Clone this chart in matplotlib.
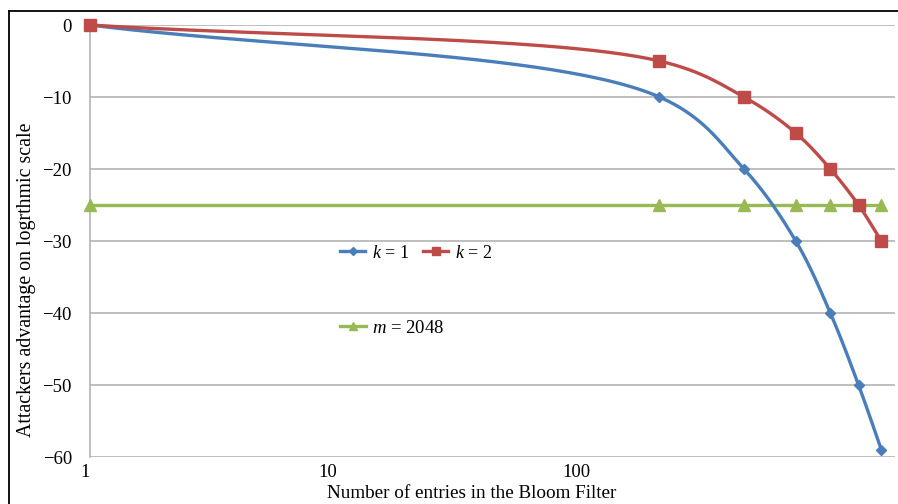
import numpy as np
import matplotlib
matplotlib.use("Agg")
import matplotlib.pyplot as plt
from matplotlib.lines import Line2D

# ---- data ----
entries = [1, 220, 490, 800, 1110, 1450, 1800]
adv_k1 = [0, -10, -20, -30, -40, -50, -59]
adv_k2 = [0, -5, -10, -15, -20, -25, -30]
adv_m = [-25, -25, -25, -25, -25, -25, -25]
x_ticks = [1, 10, 100]
x_tick_labels = ["1", "10", "100"]
y_ticks = [0, -10, -20, -30, -40, -50, -60]

plt.rcParams['font.family'] = ['Liberation Serif', 'DejaVu Serif']
plt.rcParams['mathtext.fontset'] = 'custom'
plt.rcParams['mathtext.it'] = 'Liberation Serif:italic'
plt.rcParams['mathtext.rm'] = 'Liberation Serif'

BLUE = "#4A7EBB"
RED = "#BE4B48"
GREEN = "#98B954"
GRID = "#B3B3B3"

fig = plt.figure(figsize=(8.98, 5.04), dpi=100)
ax = fig.add_axes([90 / 898, 1 - 457 / 504, (895 - 90) / 898, (457 - 25) / 504])
ax.set_xscale('log')
ax.set_xlim(1, 2048)
ax.set_ylim(-60, 0)


def smooth(xs, ys, n=60):
    """Centripetal Catmull-Rom curve through the points, computed in display space."""
    disp = ax.transData.transform(np.column_stack([xs, ys]))
    P = np.vstack([2 * disp[0] - disp[1], disp, 2 * disp[-1] - disp[-2]])
    out = []
    for i in range(1, len(P) - 2):
        p0, p1, p2, p3 = P[i - 1], P[i], P[i + 1], P[i + 2]
        t0 = 0.0
        t1 = t0 + np.linalg.norm(p1 - p0) ** 0.5
        t2 = t1 + np.linalg.norm(p2 - p1) ** 0.5
        t3 = t2 + np.linalg.norm(p3 - p2) ** 0.5
        t = np.linspace(t1, t2, n)[:, None]
        A1 = (t1 - t) / (t1 - t0) * p0 + (t - t0) / (t1 - t0) * p1
        A2 = (t2 - t) / (t2 - t1) * p1 + (t - t1) / (t2 - t1) * p2
        A3 = (t3 - t) / (t3 - t2) * p2 + (t - t2) / (t3 - t2) * p3
        B1 = (t2 - t) / (t2 - t0) * A1 + (t - t0) / (t2 - t0) * A2
        B2 = (t3 - t) / (t3 - t1) * A2 + (t - t1) / (t3 - t1) * A3
        C = (t2 - t) / (t2 - t1) * B1 + (t - t1) / (t2 - t1) * B2
        out.append(C if i == 1 else C[1:])
    out = np.vstack(out)
    data = ax.transData.inverted().transform(out)
    return data[:, 0], data[:, 1]


for yt in y_ticks:
    ax.axhline(yt, color=GRID, lw=1.2, zorder=0)

series = [
    (adv_m, GREEN, '^', 8, "$m$ = 2048"),
    (adv_k1, BLUE, 'D', 5.5, "$k$ = 1"),
    (adv_k2, RED, 's', 8, "$k$ = 2"),
]
handles = {}
for ys, col, mk, ms, lab in series:
    sx, sy = smooth(entries, ys)
    ax.plot(sx, sy, color=col, lw=2.4, solid_capstyle='round', zorder=3, clip_on=False)
    ax.plot(entries, ys, linestyle='none', marker=mk, ms=ms, color=col, zorder=4, clip_on=False)
    handles[lab] = Line2D([], [], color=col, lw=2.4, marker=mk, ms=ms * 0.75)

ax.set_xticks(x_ticks)
ax.set_xticklabels(x_tick_labels)
ax.xaxis.set_minor_locator(matplotlib.ticker.NullLocator())
ax.set_yticks(y_ticks)
ax.set_yticklabels([("\u2212%d" % -v) if v < 0 else "0" for v in y_ticks])
ax.tick_params(axis='both', length=0, labelsize=13.5, colors='black')
ax.tick_params(axis='y', pad=13)
ax.tick_params(axis='x', pad=5)

# small leftward shift of the first two x labels as in the reference
shift = matplotlib.transforms.ScaledTranslation(-5 / 100, 0, fig.dpi_scale_trans)
for lbl in ax.get_xticklabels()[:2]:
    lbl.set_transform(lbl.get_transform() + shift)

for s in ['top', 'right', 'bottom']:
    ax.spines[s].set_visible(False)
ax.spines['left'].set_color(GRID)
ax.spines['left'].set_linewidth(1.2)

fig.text(472 / 898, 1 - 493 / 504, "Number of entries in the Bloom Filter",
         ha='center', va='center', fontsize=13.8)
fig.text(27 / 898, 1 - 280 / 504, "Attackers advantage on logrthmic scale", rotation=90,
         ha='center', va='center', fontsize=14.3)

# legends
leg1 = ax.legend([handles["$k$ = 1"], handles["$k$ = 2"]], ["$k$ = 1", "$k$ = 2"],
                 loc='center left', bbox_to_anchor=(340 / 898, 1 - 253 / 504),
                 bbox_transform=fig.transFigure, ncol=2, frameon=False, fontsize=13,
                 borderpad=0, borderaxespad=0, handlelength=1.4, handletextpad=0.35,
                 columnspacing=0.8)
ax.add_artist(leg1)
ax.legend([handles["$m$ = 2048"]], ["$m$ = 2048"],
          loc='center left', bbox_to_anchor=(340 / 898, 1 - 328 / 504),
          bbox_transform=fig.transFigure, frameon=False, fontsize=13.5,
          borderpad=0, borderaxespad=0, handlelength=1.4, handletextpad=0.3)

# outer frame lines (top and left)
fig.add_artist(Line2D([9 / 898, 9 / 898], [0, 1 - 11 / 504], color='black', lw=1.3,
                      transform=fig.transFigure))
fig.add_artist(Line2D([9 / 898, 1], [1 - 11 / 504, 1 - 11 / 504], color='black', lw=1.3,
                      transform=fig.transFigure))

fig.savefig("out.png", dpi=100)
